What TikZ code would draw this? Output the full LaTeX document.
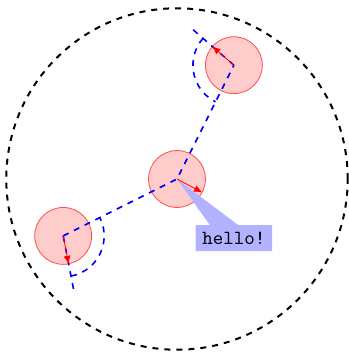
\documentclass[tikz,border=0pt]{standalone}
\usetikzlibrary{shapes.callouts,arrows.meta}
\begin{document}
\begin{tikzpicture}[
  ball/.style={circle,minimum size=1cm,inner sep=0pt,fill=red!20,draw=red!70},
  bluepath/.style={blue,dashed,thick},
  redarrow/.style={red,-{Latex[length=4pt,width=3.5pt]}},
  bubble/.style={rectangle callout,fill=blue!30,font=\ttfamily,callout pointer width=0.5cm}
]
\useasboundingbox (-88.5pt,-86.5pt) rectangle (85.5pt,89.5pt);
\draw[line width=1pt,dashed] (0,0) circle (3cm);
\node[ball] (m) at (0,0) {};
\node[ball] (t) at (1,2) {};
\node[ball] (b) at (-2,-1) {};
\draw[bluepath] (b.center) -- (m.center) -- (t.center);
\draw[bluepath] (t.center) -- ++(139:0.95cm) coordinate (te);
\draw[bluepath] (t.center) ++(139:0.72cm) coordinate (ta) arc[start angle=139,end angle=243.4,radius=0.72cm];
\draw[bluepath] (b.center) -- ++(281:0.95cm) coordinate (be);
\draw[bluepath] (b.center) ++(281:0.72cm) coordinate (ba) arc[start angle=281,end angle=386.6,radius=0.72cm];
\node[bubble,callout absolute pointer={(m.center)}] (h) at (1,-1.04) {hello!};
\draw[redarrow] (m.center) -- ++(-28:0.5cm) coordinate (ma);
\draw[redarrow] (t.center) -- ++(139:0.5cm) coordinate (tr);
\draw[redarrow] (b.center) -- ++(-79:0.5cm) coordinate (br);
\end{tikzpicture}
\end{document}
